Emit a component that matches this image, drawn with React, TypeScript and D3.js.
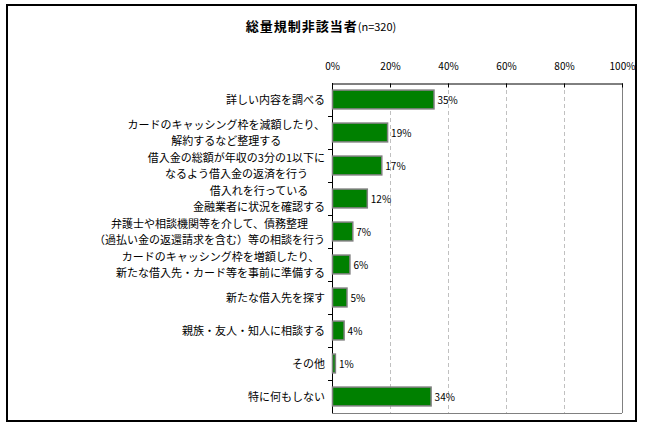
import React, { useEffect, useRef } from "react";
import * as d3 from "d3";

const categories: string[][] = [
  ["詳しい内容を調べる"],
  ["カードのキャッシング枠を減額したり、", "解約するなど整理する"],
  ["借入金の総額が年収の3分の1以下に", "なるよう借入金の返済を行う"],
  ["借入れを行っている", "金融業者に状況を確認する"],
  ["弁護士や相談機関等を介して、債務整理", "（過払い金の返還請求を含む）等の相談を行う"],
  ["カードのキャッシング枠を増額したり、", "新たな借入先・カード等を事前に準備する"],
  ["新たな借入先を探す"],
  ["親族・友人・知人に相談する"],
  ["その他"],
  ["特に何もしない"],
];
const values = [35, 19, 17, 12, 7, 6, 5, 4, 1, 34];
const xTicks = [0, 20, 40, 60, 80, 100];

export default function App() {
  const svgRef = useRef<SVGSVGElement>(null);

  useEffect(() => {
    if (!svgRef.current) return;
    const svg = d3.select(svgRef.current);
    svg.selectAll("*").remove();

    const font = "'Noto Sans CJK JP', sans-serif";
    const left = 332, right = 622, top = 83, bottom = 413;

    const x = d3.scaleLinear().domain([0, 100]).range([left, right]);
    const y = d3.scaleBand<number>().domain(d3.range(values.length)).range([top, bottom]).paddingInner(0.43).paddingOuter(0.215);
    const band = d3.scaleBand<number>().domain(d3.range(values.length)).range([top, bottom]);

    // outer frame
    svg.append("rect").attr("x", 7).attr("y", 5).attr("width", 629).attr("height", 416)
      .attr("fill", "#fff").attr("stroke", "#000").attr("stroke-width", 2);

    // title
    const title = svg.append("text").attr("x", 321).attr("y", 31).attr("text-anchor", "middle")
      .style("font-family", font).attr("fill", "#000");
    title.append("tspan").style("font-weight", "bold").style("font-size", "13px").style("letter-spacing", "1px").text("総量規制非該当者");
    title.append("tspan").style("font-size", "11px").text("(n=320)");

    // gridlines
    svg.append("g").selectAll("line").data(xTicks.slice(1, -1)).join("line")
      .attr("x1", d => x(d) + 0.5).attr("x2", d => x(d) + 0.5).attr("y1", top).attr("y2", bottom)
      .attr("stroke", "#c0c0c0").attr("stroke-dasharray", "4,3");

    // plot borders
    svg.append("line").attr("x1", x(100) + 0.5).attr("x2", x(100) + 0.5).attr("y1", top).attr("y2", bottom).attr("stroke", "#808080");
    svg.append("line").attr("x1", left).attr("x2", right).attr("y1", bottom + 0.5).attr("y2", bottom + 0.5).attr("stroke", "#808080");

    // top axis
    const xAxis = svg.append("g").attr("transform", `translate(0,${top + 0.5})`)
      .call(d3.axisTop(x).tickValues(xTicks).tickSizeInner(-4).tickSizeOuter(0).tickPadding(14).tickFormat(d => `${d}%`));
    xAxis.select(".domain").attr("stroke", "#000");
    xAxis.selectAll("line").attr("stroke", "#000");
    xAxis.selectAll("text").style("font-family", font).style("font-size", "10px").attr("fill", "#000");

    // left axis ticks
    svg.append("line").attr("x1", left + 0.5).attr("x2", left + 0.5).attr("y1", top).attr("y2", bottom).attr("stroke", "#000");
    svg.append("g").selectAll("line").data(d3.range(1, values.length)).join("line")
      .attr("x1", left - 4).attr("x2", left).attr("y1", d => band(d)! + 0.5).attr("y2", d => band(d)! + 0.5)
      .attr("stroke", "#000");

    // bars
    svg.append("g").selectAll("rect").data(values).join("rect")
      .attr("x", x(0) + 0.5).attr("y", (_, i) => y(i)!)
      .attr("width", d => x(d) - x(0)).attr("height", y.bandwidth())
      .attr("fill", "#008000").attr("stroke", "#808080").attr("stroke-width", 1.5);

    // value labels
    svg.append("g").selectAll("text").data(values).join("text")
      .attr("x", d => x(d) + 4).attr("y", (_, i) => y(i)! + y.bandwidth() / 2 + 4)
      .style("font-family", font).style("font-size", "10px").attr("fill", "#000")
      .text(d => `${d}%`);

    // category labels (lines centred on each other, block right-aligned)
    const lh = 16;
    categories.forEach((lines, i) => {
      const cy = band(i)! + band.bandwidth() / 2;
      const g = svg.append("g");
      const texts = lines.map((s, j) =>
        g.append("text")
          .attr("y", cy + (j - (lines.length - 1) / 2) * lh + 4)
          .attr("text-anchor", "middle")
          .style("font-family", font).style("font-size", "11px").attr("fill", "#000")
          .text(s)
      );
      const w = d3.max(texts, t => (t.node() as SVGTextElement).getComputedTextLength()) || 0;
      texts.forEach(t => t.attr("x", 325 - w / 2));
    });
  }, []);

  return (
    <svg ref={svgRef} width={650} height={429} style={{ position: "absolute", left: 0, top: 0 }} />
  );
}
